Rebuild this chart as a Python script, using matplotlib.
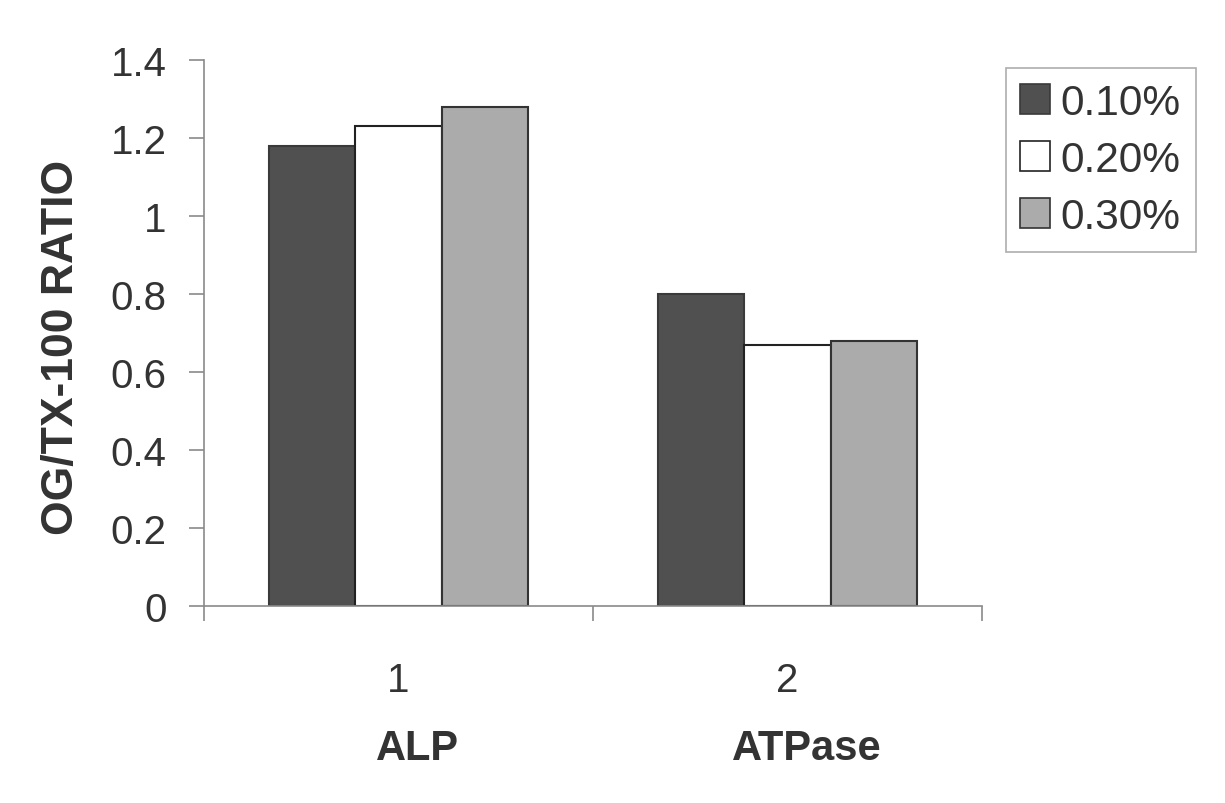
import numpy as np
import matplotlib.pyplot as plt
from matplotlib.patches import Patch

plt.rcParams['font.family'] = ['Liberation Sans', 'DejaVu Sans']

# OG/TX-100 ratio per enzyme at each detergent concentration
categories = ['ALP', 'ATPase']
cat_numbers = ['1', '2']
series_names = ['0.10%', '0.20%', '0.30%']
ratio_010 = [1.18, 0.80]
ratio_020 = [1.23, 0.67]
ratio_030 = [1.28, 0.68]

series = [ratio_010, ratio_020, ratio_030]
faces = ['#505050', '#ffffff', '#ababab']
edges = ['#3a3a3a', '#222222', '#333333']

fig = plt.figure(figsize=(12.25, 8.04), dpi=100)
ax = fig.add_axes([0.1665, 0.245, 0.635, 0.679])

x = np.arange(1, len(categories) + 1)
w = 0.222
for i, (vals, fc, ec) in enumerate(zip(series, faces, edges)):
    ax.bar(x + (i - 1) * w, vals, width=w, color=fc, edgecolor=ec,
           linewidth=1.5, label=series_names[i])

ax.set_xlim(0.5, 2.5)
ax.set_ylim(0, 1.4)
ax.set_yticks([0, 0.2, 0.4, 0.6, 0.8, 1, 1.2, 1.4])
ax.set_yticklabels(['0', '0.2', '0.4', '0.6', '0.8', '1', '1.2', '1.4'])
ax.set_xticks([0.5, 1.5, 2.5])
ax.set_xticklabels([])

for s in ['top', 'right']:
    ax.spines[s].set_visible(False)
for s in ['left', 'bottom']:
    ax.spines[s].set_color('#8a8a8a')
    ax.spines[s].set_linewidth(1.2)
ax.tick_params(axis='both', direction='out', length=11, width=1.2,
               color='#8a8a8a', labelcolor='#333333', labelsize=29, pad=16)

# category labels: number on one line, enzyme name below in bold
for xi, num, name in zip(x, cat_numbers, categories):
    ax.text(xi, -0.19, num, ha='center', va='center', fontsize=29,
            color='#333333', clip_on=False)
    ax.text(xi + 0.05, -0.365, name, ha='center', va='center', fontsize=30,
            fontweight='bold', color='#333333', clip_on=False)

ax.set_ylabel('OG/TX-100 RATIO', fontsize=32, fontweight='bold',
              color='#333333')
ax.yaxis.set_label_coords(-0.157, 0.476)

handles = [Patch(facecolor=fc, edgecolor=ec, linewidth=1.2)
           for fc, ec in zip(faces, edges)]
leg = fig.legend(handles, series_names, loc='upper right',
                 bbox_to_anchor=(0.976, 0.914), fontsize=30.5,
                 frameon=True, fancybox=False, edgecolor='#999999',
                 handlelength=0.7, handleheight=0.7, handletextpad=0.25,
                 labelspacing=0.4, borderpad=0.35, borderaxespad=0)
for t in leg.get_texts():
    t.set_color('#333333')
leg.get_frame().set_linewidth(1.2)

fig.savefig('out.png', dpi=100, facecolor='white')
